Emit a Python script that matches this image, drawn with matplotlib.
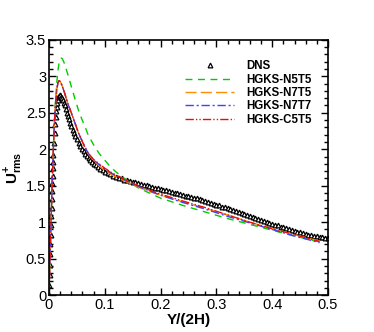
import matplotlib
matplotlib.use('Agg')
import matplotlib.pyplot as plt
from matplotlib.ticker import MultipleLocator

plt.rcParams['font.family'] = ['Liberation Sans', 'DejaVu Sans']
plt.rcParams['mathtext.fontset'] = 'custom'
plt.rcParams['mathtext.rm'] = 'Liberation Sans'
plt.rcParams['mathtext.bf'] = 'Liberation Sans:bold'

# DNS reference profile (Y/(2H), U_rms+)
dns_y = [0, 0.0005, 0.001, 0.0015, 0.002, 0.0025, 0.003, 0.0035, 0.004, 0.0045,
         0.005, 0.0055, 0.006, 0.0065, 0.007, 0.0075, 0.008, 0.009, 0.010, 0.011,
         0.012, 0.013, 0.014, 0.015, 0.016, 0.017, 0.018, 0.019, 0.020, 0.0215,
         0.023, 0.0245, 0.026, 0.028, 0.030, 0.032, 0.034, 0.036, 0.038, 0.040,
         0.0425, 0.045, 0.0475, 0.050, 0.053, 0.056, 0.059, 0.062, 0.065, 0.068,
         0.071, 0.074, 0.077, 0.080, 0.084, 0.088, 0.092, 0.096, 0.100,
         0.105, 0.11, 0.115, 0.12, 0.125, 0.13, 0.135, 0.14, 0.145, 0.15,
         0.155, 0.16, 0.165, 0.17, 0.175, 0.18, 0.185, 0.19, 0.195, 0.2,
         0.205, 0.21, 0.215, 0.22, 0.225, 0.23, 0.235, 0.24, 0.245, 0.25,
         0.255, 0.26, 0.265, 0.27, 0.275, 0.28, 0.285, 0.29, 0.295, 0.3,
         0.305, 0.31, 0.315, 0.32, 0.325, 0.33, 0.335, 0.34, 0.345, 0.35,
         0.355, 0.36, 0.365, 0.37, 0.375, 0.38, 0.385, 0.39, 0.395, 0.4,
         0.405, 0.41, 0.415, 0.42, 0.425, 0.43, 0.435, 0.44, 0.445, 0.45,
         0.455, 0.46, 0.465, 0.47, 0.475, 0.48, 0.485, 0.49, 0.495, 0.5]
dns_u = [0, 0.14, 0.28, 0.42, 0.56, 0.70, 0.83, 0.96, 1.08, 1.20,
         1.32, 1.43, 1.54, 1.64, 1.74, 1.83, 1.92, 2.08, 2.22, 2.34,
         2.44, 2.52, 2.58, 2.63, 2.68, 2.71, 2.73, 2.74, 2.74, 2.72,
         2.70, 2.67, 2.64, 2.60, 2.55, 2.50, 2.45, 2.41, 2.36, 2.32,
         2.27, 2.22, 2.18, 2.14, 2.09, 2.05, 2.01, 1.97, 1.94, 1.91,
         1.88, 1.85, 1.83, 1.80, 1.78, 1.75, 1.73, 1.71, 1.69,
         1.67, 1.655, 1.64, 1.625, 1.61, 1.60, 1.585, 1.575, 1.565, 1.555,
         1.545, 1.535, 1.525, 1.515, 1.505, 1.495, 1.485, 1.475, 1.465, 1.455,
         1.445, 1.435, 1.425, 1.415, 1.405, 1.395, 1.385, 1.375, 1.365, 1.355,
         1.345, 1.335, 1.325, 1.315, 1.30, 1.29, 1.28, 1.265, 1.255, 1.24,
         1.23, 1.215, 1.205, 1.19, 1.18, 1.165, 1.15, 1.14, 1.125, 1.11,
         1.10, 1.085, 1.07, 1.06, 1.045, 1.03, 1.02, 1.005, 0.99, 0.98,
         0.965, 0.955, 0.94, 0.93, 0.915, 0.905, 0.89, 0.88, 0.87, 0.86,
         0.85, 0.84, 0.83, 0.82, 0.81, 0.805, 0.80, 0.795, 0.79, 0.79]

# HGKS results
model_y = [0, 0.002, 0.004, 0.006, 0.008, 0.010, 0.012, 0.014, 0.016, 0.018,
           0.020, 0.022, 0.024, 0.028, 0.034, 0.040, 0.047, 0.053, 0.059, 0.065,
           0.070, 0.080, 0.090, 0.100, 0.110, 0.120, 0.140, 0.160, 0.180, 0.200,
           0.240, 0.280, 0.320, 0.360, 0.400, 0.440, 0.485]
u_n5t5 = [0, 0.55, 1.10, 1.60, 2.05, 2.42, 2.70, 2.92, 3.08, 3.18,
          3.23, 3.25, 3.24, 3.17, 3.02, 2.86, 2.68, 2.53, 2.41, 2.30,
          2.20, 2.06, 1.94, 1.85, 1.76, 1.69, 1.57, 1.47, 1.40, 1.33,
          1.23, 1.14, 1.05, 0.97, 0.89, 0.81, 0.73]
u_n7t5 = [0, 0.55, 1.10, 1.60, 2.05, 2.40, 2.65, 2.82, 2.91, 2.94,
          2.93, 2.90, 2.86, 2.77, 2.62, 2.50, 2.35, 2.22, 2.11, 2.01,
          1.94, 1.84, 1.77, 1.71, 1.66, 1.62, 1.55, 1.48, 1.42, 1.37,
          1.28, 1.19, 1.10, 1.00, 0.91, 0.83, 0.74]
u_n7t7 = [0, 0.55, 1.10, 1.60, 2.05, 2.40, 2.65, 2.82, 2.91, 2.94,
          2.93, 2.90, 2.86, 2.77, 2.62, 2.50, 2.35, 2.22, 2.12, 2.02,
          1.95, 1.85, 1.79, 1.73, 1.68, 1.64, 1.56, 1.49, 1.43, 1.37,
          1.27, 1.18, 1.08, 0.99, 0.90, 0.81, 0.72]
u_c5t5 = [0, 0.55, 1.10, 1.60, 2.05, 2.40, 2.65, 2.82, 2.91, 2.94,
          2.93, 2.90, 2.86, 2.77, 2.62, 2.50, 2.35, 2.22, 2.12, 2.02,
          1.95, 1.86, 1.80, 1.74, 1.69, 1.645, 1.57, 1.50, 1.44, 1.385,
          1.29, 1.20, 1.10, 1.00, 0.91, 0.83, 0.735]

labels = ['DNS', 'HGKS-N5T5', 'HGKS-N7T5', 'HGKS-N7T7', 'HGKS-C5T5']
xticks = [0, 0.1, 0.2, 0.3, 0.4, 0.5]
xticklabels = ['0', '0.1', '0.2', '0.3', '0.4', '0.5']
yticks = [0, 0.5, 1, 1.5, 2, 2.5, 3, 3.5]
yticklabels = ['0', '0.5', '1', '1.5', '2', '2.5', '3', '3.5']

fig = plt.figure(figsize=(3.74, 3.32), dpi=100)
ax = fig.add_axes([0.131, 0.111, 0.746, 0.769])

ax.plot(dns_y, dns_u, linestyle='none', marker='^', markersize=3.4,
        mfc='white', mec='black', mew=0.9, label=labels[0])
ax.plot(model_y, u_n5t5, color='#00cc00', lw=1.0, dashes=(5, 4), label=labels[1])
ax.plot(model_y, u_n7t5, color='#ff8c00', lw=1.0, dashes=(8, 3), label=labels[2])
ax.plot(model_y, u_n7t7, color='#4040ff', lw=1.0, dashes=(6, 2, 1.5, 2), label=labels[3])
ax.plot(model_y, u_c5t5, color='#e01010', lw=1.0, dashes=(6, 1.5, 1, 1.5, 1, 1.5), label=labels[4])

ax.set_xlim(0, 0.5)
ax.set_ylim(0, 3.5)
ax.set_xticks(xticks)
ax.set_xticklabels(xticklabels)
ax.set_yticks(yticks)
ax.set_yticklabels(yticklabels)
ax.xaxis.set_minor_locator(MultipleLocator(0.02))
ax.yaxis.set_minor_locator(MultipleLocator(0.1))
ax.tick_params(which='both', direction='in', top=True, right=True, labelsize=10.5, width=1, pad=2)
ax.tick_params(which='major', length=5)
ax.tick_params(which='minor', length=3)
for s in ax.spines.values():
    s.set_linewidth(1.2)

ax.set_xlabel('Y/(2H)', fontsize=11, fontweight='bold', labelpad=1)
ax.set_ylabel(r'$\mathbf{U}_{\mathbf{rms}}^{\mathbf{+}}$', fontsize=11)
ax.yaxis.set_label_coords(-0.085, 0.5)

leg = ax.legend(loc='upper left', bbox_to_anchor=(0.487, 0.92), frameon=False,
                prop={'size': 8.3, 'weight': 'bold'}, handlelength=4.3,
                handletextpad=1.0, labelspacing=0.12, borderpad=0, borderaxespad=0)

fig.savefig('out.png', dpi=100)
